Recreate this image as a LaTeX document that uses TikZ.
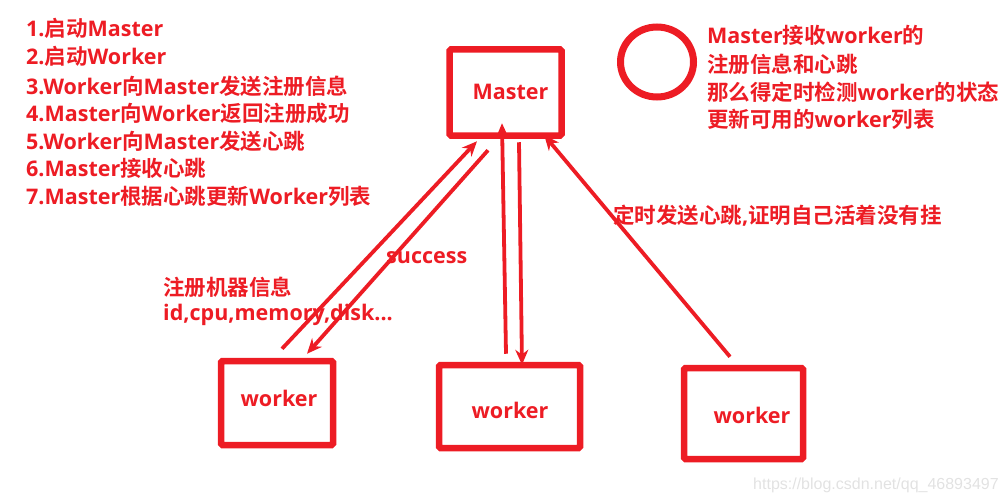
\documentclass[tikz,border=0pt]{standalone}
\usepackage{fontspec}
\setmainfont{Open Sans}
\newfontfamily\cjk{Noto Sans CJK SC}[BoldFont={Noto Sans CJK SC Bold}]
\newfontfamily\wmfont{Liberation Sans}
\usetikzlibrary{arrows.meta,shapes.geometric}
\definecolor{pred}{RGB}{237,28,36}
\definecolor{wmgray}{RGB}{226,226,226}
\begin{document}
\begin{tikzpicture}[x=1pt,y=-1pt,
  box/.style={draw=pred, line width=6.5pt, rounded corners=1.5pt, inner sep=0pt},
  txt/.style={text=pred, font=\fontsize{21.5}{26}\selectfont\bfseries, inner sep=0pt, anchor=base west},
  lbl/.style={text=pred, font=\fontsize{21.5}{26}\selectfont\bfseries, inner sep=0pt, anchor=base},
  arr/.style={draw=pred, line width=3.8pt, -{Stealth[length=15pt,width=13pt]}}]
\useasboundingbox (0,0) rectangle (1006,503);

% boxes
\node[box, minimum width=112pt, minimum height=86pt] (master) at (505.5,92.5) {};
\node[box, minimum width=112pt, minimum height=84pt] (w1) at (277,403) {};
\node[box, minimum width=141pt, minimum height=83pt] (w2) at (509.5,406.5) {};
\node[box, minimum width=119pt, minimum height=91pt] (w3) at (743.5,413.5) {};
\node[draw=pred, line width=7pt, ellipse, inner sep=0pt, minimum width=73pt, minimum height=70pt] (mark) at (657,62) {};

% box labels
\node[lbl] (mtext) at (510.5,99) {Master};
\node[lbl] (w1text) at (279,406) {worker};
\node[lbl] (w2text) at (510,418) {worker};
\node[lbl] (w3text) at (752,423) {worker};

% step list
\node[txt] (s1) at (26,37) {1.{\cjk 启动}Master};
\node[txt] (s2) at (26,65) {2.{\cjk 启动}Worker};
\node[txt] (s3) at (26,94) {3.Worker{\cjk 向}Master{\cjk 发送注册信息}};
\node[txt] (s4) at (26,121) {4.Master{\cjk 向}Worker{\cjk 返回注册成功}};
\node[txt] (s5) at (26,149) {5.Worker{\cjk 向}Master{\cjk 发送心跳}};
\node[txt] (s6) at (26,176) {6.Master{\cjk 接收心跳}};
\node[txt] (s7) at (26,204) {7.Master{\cjk 根据心跳更新}Worker{\cjk 列表}};

% note
\node[txt] (n1) at (707,44) {Master{\cjk 接收}worker{\cjk 的}};
\node[txt] (n2) at (707,73) {{\cjk 注册信息和心跳}};
\node[txt] (n3) at (707,100) {{\cjk 那么得定时检测}worker{\cjk 的状态}};
\node[txt] (n4) at (707,127) {{\cjk 更新可用的}worker{\cjk 列表}};

% connector labels
\node[txt] (reg1) at (163,295) {{\cjk 注册机器信息}};
\node[txt] (reg2) at (163,320) {id,cpu,memory,disk...};
\node[txt] (succ) at (386,263) {success};
\node[txt] (beat) at (613,223) {{\cjk 定时发送心跳},{\cjk 证明自己活着没有挂}};

% connectors
\draw[arr] ([xshift=5pt,yshift=9pt]w1.north) -- ([xshift=-28.5pt,yshift=-2.5pt]master.south);
\draw[arr] ([xshift=-17.5pt,yshift=-11.5pt]master.south) -- ([xshift=30pt,yshift=4pt]w1.north);
\draw[arr] ([xshift=-3.5pt,yshift=8pt]w2.north) -- ([xshift=-3.5pt,yshift=15.5pt]master.south);
\draw[arr] ([xshift=13.5pt,yshift=-3.5pt]master.south) -- ([xshift=12.5pt,yshift=-3pt]w2.north);
\draw[arr] ([xshift=-13.5pt,yshift=8pt]w3.north) -- ([xshift=-20.5pt,yshift=3.5pt]master.south east);

% watermark
\node[text=wmgray, font=\wmfont\fontsize{16}{18}\selectfont, inner sep=0pt, anchor=base west] (wm) at (753,489) {https://blog.csdn.net/qq\_46893497};
\end{tikzpicture}
\end{document}
